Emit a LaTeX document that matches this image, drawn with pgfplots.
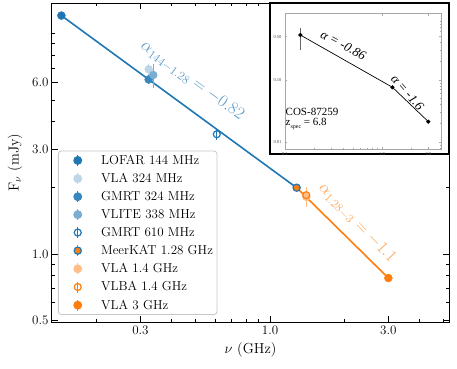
\documentclass[border=0pt]{standalone}
\usepackage{fontspec}
\usepackage{pgfplots}
\pgfplotsset{compat=1.18}
\newfontfamily\timesf{Liberation Serif}
\definecolor{tabblue}{RGB}{31,119,180}
\definecolor{taborange}{RGB}{255,127,14}

\pgfplotsset{
  errpt/.style={only marks, mark=*, mark size=4pt,
    error bars/y dir=both, error bars/y explicit, error bars/error mark=none,
    error bars/error bar style={line width=1.3pt}},
}

\begin{document}
\begin{tikzpicture}
\useasboundingbox (-52pt,-46pt) rectangle (405pt,322pt);
\begin{axis}[
  at={(0,0)}, anchor=south west,
  scale only axis, width=397pt, height=319pt,
  xmode=log, ymode=log,
  xmin=0.132, xmax=5.27, ymin=0.491, ymax=13.8,
  xtick={0.3,1,3}, xticklabels={0.3,1.0,3.0},
  minor xtick={0.2,0.4,0.5,0.6,0.7,0.8,0.9,2,4,5},
  ytick={0.5,1,3,6}, yticklabels={0.5,1.0,3.0,6.0},
  minor ytick={0.6,0.7,0.8,0.9,2,4,5,7,8,9,10},
  tick align=inside, major tick length=6pt, minor tick length=3pt,
  tick style={black, line width=0.8pt},
  axis line style={line width=1pt},
  ticklabel style={font=\fontsize{13}{15}\selectfont},
  xlabel={$\nu$ (GHz)}, ylabel={F$_\nu$ (mJy)},
  label style={font=\fontsize{14.5}{16}\selectfont},
  xlabel style={at={(axis description cs:0.5,-0.088)}, anchor=center},
  ylabel style={at={(axis description cs:-0.093,0.5)}, anchor=center},
  legend cell align=left,
  legend style={at={(0.015,0.022)}, anchor=south west, draw=black!22,
    line width=0.8pt, rounded corners=3pt, font=\fontsize{13}{15}\selectfont,
    row sep=3.4pt, inner sep=2pt},
  legend image code/.code={
    \path (0pt,0pt) (38pt,0pt);
    \draw[mark=none, line width=1.3pt] (17pt,-5.5pt) -- (17pt,5.5pt);
    \draw[mark repeat=2, mark phase=2] plot coordinates {(0pt,0pt) (17pt,0pt) (34pt,0pt)};
  },
]
% power-law segments
\addplot[forget plot, tabblue, line width=1.6pt] coordinates {(0.144,12.1) (1.28,2.0)};
\addplot[forget plot, taborange, line width=1.6pt] coordinates {(1.28,2.0) (3.0,0.778)};

\addplot[errpt, color=tabblue] coordinates {(0.144,12.1) +- (0,0.3)};
\addlegendentry{LOFAR 144 MHz}
\addplot[errpt, color=tabblue!30!white] coordinates {(0.324,6.9) +- (0,0.4)};
\addlegendentry{VLA 324 MHz}
\addplot[errpt, color=tabblue!88!white] coordinates {(0.324,6.2) +- (0,0.3)};
\addlegendentry{GMRT 324 MHz}
\addplot[errpt, color=tabblue!60!white] coordinates {(0.338,6.5) +- (0,0.8)};
\addlegendentry{VLITE 338 MHz}
\addplot[errpt, color=tabblue, mark=o, mark options={line width=1.2pt}, mark size=3.5pt] coordinates {(0.61,3.5) +- (0,0.2)};
\addlegendentry{GMRT 610 MHz}
\addplot[errpt, color=taborange, mark options={draw=tabblue, fill=taborange, line width=1.2pt}, mark size=3.6pt] coordinates {(1.28,2.0) +- (0,0.05)};
\addlegendentry{MeerKAT 1.28 GHz}
\addplot[errpt, color=taborange!50!white] coordinates {(1.4,1.82) +- (0,0.19)};
\addlegendentry{VLA 1.4 GHz}
\addplot[errpt, color=taborange, mark=o, mark options={line width=1.2pt}, mark size=3.5pt] coordinates {(1.4,1.85) +- (0,0.08)};
\addlegendentry{VLBA 1.4 GHz}
\addplot[errpt, color=taborange] coordinates {(3.0,0.778) +- (0,0.02)};
\addlegendentry{VLA 3 GHz}

\node[rotate=-36, text=tabblue!75!white, font=\fontsize{17}{17}\selectfont]
  at (axis cs:0.485,6.1) {$\alpha_{144-1.28} = -0.82$};
\node[rotate=-46, text=taborange!70!white, font=\fontsize{17}{17}\selectfont]
  at (axis cs:2.24,1.38) {$\alpha_{1.28-3} = -1.1$};
\end{axis}

% inset frame
\filldraw[fill=white, draw=black, line width=1.2pt] (218pt,168pt) rectangle (397pt,319pt);

\begin{axis}[
  at={(233pt,172.7pt)}, anchor=south west,
  scale only axis, width=156pt, height=136.3pt,
  xmode=log, ymode=log,
  xmin=0.1, xmax=4.05, ymin=0.0076, ymax=1.2,
  xtick={0.1,1,3}, xticklabels={0.1,1.0,3.0},
  minor xtick={0.2,0.3,0.4,0.5,0.6,0.7,0.8,0.9,2,4},
  ytick={0.01,0.1,0.5}, yticklabels={0.01,0.10,0.50},
  minor ytick={0.008,0.009,0.02,0.03,0.04,0.05,0.06,0.07,0.08,0.09,0.2,0.3,0.4,0.6,0.7,0.8,0.9},
  tick align=inside, major tick length=2.5pt, minor tick length=1.3pt,
  tick style={gray!70, line width=0.4pt},
  axis line style={gray!70, line width=0.5pt},
  ticklabel style={font=\timesf\fontsize{4.5}{5}\selectfont, text=gray!60!black},
]
\addplot[black, line width=0.7pt, mark=*, mark size=1.7pt,
  error bars/.cd, y dir=both, y explicit, error mark=none,
  error bar style={line width=0.7pt, gray!80!black}]
  coordinates {(0.144,0.53) += (0,0.16) -= (0,0.23) (1.28,0.076) (3.0,0.0212)};
\node[rotate=-28, font=\timesf\itshape\fontsize{13}{13}\selectfont]
  at (axis cs:0.4,0.367) {α = -0.86};
\node[rotate=-49, font=\timesf\itshape\fontsize{13}{13}\selectfont]
  at (axis cs:1.83,0.0629) {α = -1.6};
\node[anchor=west, inner sep=0.5pt, font=\timesf\fontsize{11}{11}\selectfont]
  at (rel axis cs:0,0.276) {COS-87259};
\node[anchor=west, inner sep=0.5pt, font=\timesf\fontsize{11}{11}\selectfont]
  at (rel axis cs:0,0.186) {z\raisebox{-0.5ex}{\fontsize{6}{6}\selectfont spec} = 6.8};
\end{axis}
\end{tikzpicture}
\end{document}
